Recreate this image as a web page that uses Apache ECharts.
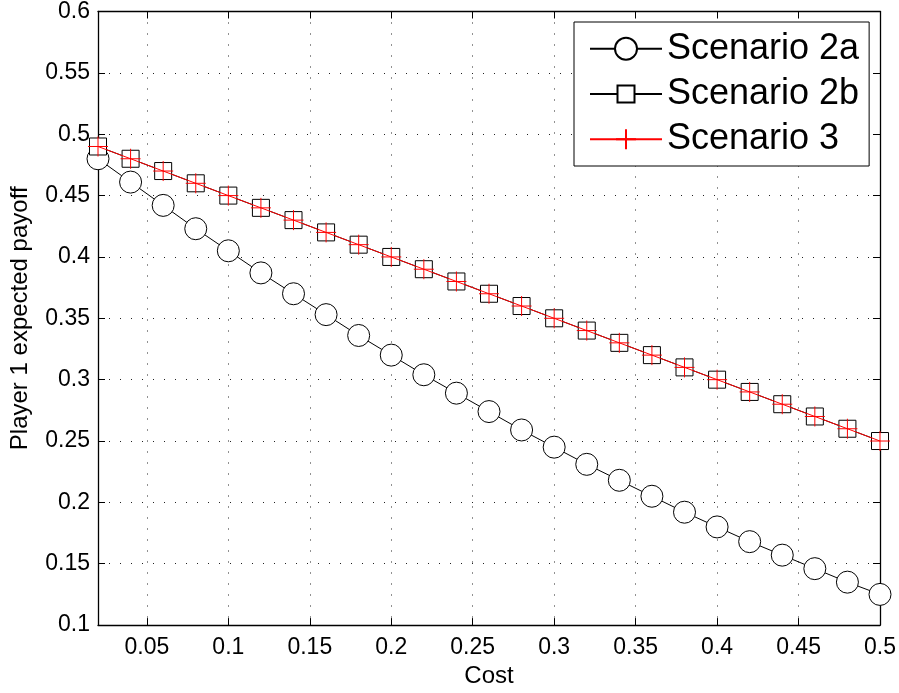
<!DOCTYPE html>
<html>
<head>
<meta charset="utf-8">
<script src="https://cdn.jsdelivr.net/npm/echarts@6/dist/echarts.min.js"></script>
<style>
html,body{margin:0;padding:0;background:#fff;}
#chart{width:899px;height:693px;}
</style>
</head>
<body>
<div id="chart"></div>
<script>
// ---- data ----
const cost = [0.02,0.04,0.06,0.08,0.10,0.12,0.14,0.16,0.18,0.20,0.22,0.24,0.26,0.28,0.30,0.32,0.34,0.36,0.38,0.40,0.42,0.44,0.46,0.48,0.50];
const scenario2a = [0.480,0.461,0.442,0.423,0.405,0.387,0.370,0.353,0.336,0.320,0.304,0.289,0.274,0.259,0.245,0.231,0.218,0.205,0.192,0.180,0.168,0.157,0.146,0.135,0.125];
const scenario2b = [0.49,0.48,0.47,0.46,0.45,0.44,0.43,0.42,0.41,0.40,0.39,0.38,0.37,0.36,0.35,0.34,0.33,0.32,0.31,0.30,0.29,0.28,0.27,0.26,0.25];
const scenario3  = [0.49,0.48,0.47,0.46,0.45,0.44,0.43,0.42,0.41,0.40,0.39,0.38,0.37,0.36,0.35,0.34,0.33,0.32,0.31,0.30,0.29,0.28,0.27,0.26,0.25];
const seriesNames = ['Scenario 2a','Scenario 2b','Scenario 3'];
const xTicks = [0.05,0.1,0.15,0.2,0.25,0.3,0.35,0.4,0.45,0.5];
const yTicks = [0.1,0.15,0.2,0.25,0.3,0.35,0.4,0.45,0.5,0.55,0.6];
const xTitle = 'Cost';
const yTitle = 'Player 1 expected payoff';

// ---- chart ----
const FONT = '"Liberation Sans", Arial, Helvetica, sans-serif';
const pair = (xs, ys) => xs.map((x, i) => [x, ys[i]]);
const squarePath = 'path://M-11,-11 M11,11 M-8.5,-8.5 L8.5,-8.5 L8.5,8.5 L-8.5,8.5 Z';
const crossPath = 'path://M-11,-11 M11,11 M0,-10 L0,10 M-10,0 L10,0';

const tickStyle = {show: true, inside: true, length: 7, lineStyle: {color: '#000', width: 1}};
const axisLineStyle = {show: true, onZero: false, lineStyle: {color: '#000', width: 1.3}};
const gridLine = {show: true, lineStyle: {color: '#222', width: 1, type: [1, 10]}};
const labelStyle = {color: '#000', fontFamily: FONT, fontSize: 23};

const option = {
  animation: false,
  backgroundColor: '#fff',
  grid: {left: 98, right: 19, top: 11, bottom: 66, containLabel: false},
  legend: {
    orient: 'vertical',
    left: 574, top: 22,
    data: seriesNames,
    itemWidth: 72, itemHeight: 27.5, itemGap: 9.3,
    padding: [8.7, 10, 8.7, 15],
    borderColor: '#000', borderWidth: 1, backgroundColor: '#fff',
    textStyle: {color: '#000', fontFamily: FONT, fontSize: 36, lineHeight: 34},
    selectedMode: false
  },
  xAxis: [{
    type: 'value', min: 0.02, max: 0.5, position: 'bottom',
    name: xTitle, nameLocation: 'middle', nameGap: 37,
    nameTextStyle: {color: '#000', fontFamily: FONT, fontSize: 24},
    axisLine: axisLineStyle,
    axisTick: Object.assign({customValues: xTicks}, tickStyle),
    axisLabel: Object.assign({customValues: xTicks, margin: 11}, labelStyle),
    splitLine: gridLine
  }, {
    type: 'value', min: 0.02, max: 0.5, position: 'top',
    axisLine: axisLineStyle,
    axisTick: Object.assign({customValues: xTicks}, tickStyle),
    axisLabel: {show: false},
    splitLine: {show: false}
  }],
  yAxis: [{
    type: 'value', min: 0.1, max: 0.6, interval: 0.05, position: 'left',
    name: yTitle, nameLocation: 'middle', nameGap: 66, nameRotate: 90,
    nameTextStyle: {color: '#000', fontFamily: FONT, fontSize: 24},
    axisLine: axisLineStyle,
    axisTick: Object.assign({customValues: yTicks}, tickStyle),
    axisLabel: Object.assign({customValues: yTicks, margin: 8}, labelStyle),
    splitLine: gridLine
  }, {
    type: 'value', min: 0.1, max: 0.6, interval: 0.05, position: 'right',
    axisLine: axisLineStyle,
    axisTick: Object.assign({customValues: yTicks}, tickStyle),
    axisLabel: {show: false},
    splitLine: {show: false}
  }],
  series: [{
    name: seriesNames[0], type: 'line', z: 2,
    data: pair(cost, scenario2a),
    symbol: 'circle', symbolSize: 22,
    lineStyle: {color: '#000', width: 1},
    itemStyle: {color: '#fff', borderColor: '#000', borderWidth: 1}
  }, {
    name: seriesNames[1], type: 'line', z: 3,
    data: pair(cost, scenario2b),
    symbol: squarePath, symbolSize: 22,
    lineStyle: {color: '#000', width: 1},
    itemStyle: {color: '#fff', borderColor: '#000', borderWidth: 1}
  }, {
    name: seriesNames[2], type: 'line', z: 4,
    data: pair(cost, scenario3),
    symbol: crossPath, symbolSize: 22,
    lineStyle: {color: '#ff0000', width: 1},
    itemStyle: {color: '#ff0000', borderColor: '#ff0000', borderWidth: 1}
  }]
};

const chart = echarts.init(document.getElementById('chart'), null, {renderer: 'canvas'});
chart.setOption(option);
</script>
</body>
</html>
